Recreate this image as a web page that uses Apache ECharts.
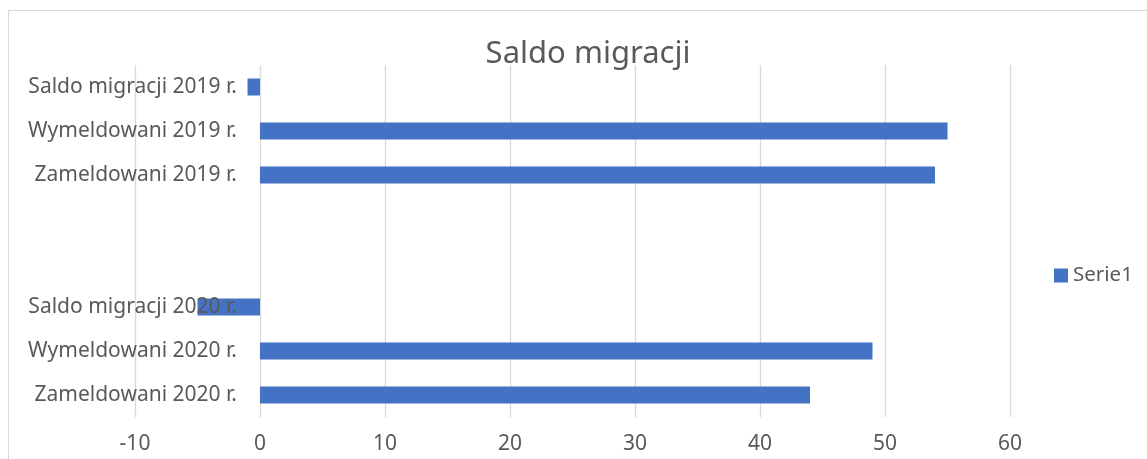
<!DOCTYPE html>
<html>
<head>
<meta charset="utf-8">
<style>
  html, body { margin: 0; padding: 0; background: #fff; }
  #frame {
    position: absolute; left: 8px; top: 10px; width: 1200px; height: 500px;
    border-left: 1px solid #d9d9d9; border-top: 1px solid #d9d9d9;
  }
  #chart { position: absolute; left: 0; top: 0; width: 1147px; height: 459px; }
</style>
<script src="https://cdn.jsdelivr.net/npm/echarts@6/dist/echarts.min.js"></script>
</head>
<body>
<div id="frame"></div>
<div id="chart"></div>
<script>
  // categories bottom to top, the two blanks make the gap between the years
  var categories = [
    'Zameldowani 2020 r.', 'Wymeldowani 2020 r.', 'Saldo migracji 2020 r.',
    '', ' ',
    'Zameldowani 2019 r.', 'Wymeldowani 2019 r.', 'Saldo migracji 2019 r.'
  ]
  var serie1 = [44, 49, -5, null, null, 54, 55, -1]

  var font = 'Noto Sans'
  var textColor = '#595959'

  var chart = echarts.init(document.getElementById('chart'))
  chart.setOption({
    animation: false,
    title: {
      text: 'Saldo migracji',
      left: 583,
      textAlign: 'center',
      top: 34,
      textStyle: {
        fontFamily: font,
        fontSize: 31,
        fontWeight: 'normal',
        color: textColor
      }
    },
    legend: {
      data: ['Serie1'],
      left: 1054,
      top: 265,
      padding: 0,
      icon: 'rect',
      itemWidth: 14,
      itemHeight: 14,
      textStyle: {
        fontFamily: font,
        fontSize: 20.5,
        color: textColor
      }
    },
    grid: {
      left: 135,
      right: 137,
      top: 65,
      bottom: 42,
      containLabel: false,
      outerBoundsMode: 'none'
    },
    xAxis: {
      type: 'value',
      min: -10,
      max: 60,
      interval: 10,
      axisLine: { show: false },
      axisTick: { show: false },
      splitLine: {
        lineStyle: { color: '#d9d9d9', width: 1.3 }
      },
      axisLabel: {
        margin: 17,
        fontFamily: font,
        fontSize: 21,
        color: textColor
      }
    },
    yAxis: {
      type: 'category',
      data: categories,
      z: 5, // labels drawn over the bars, like the 2020 saldo label
      axisLine: { show: false },
      axisTick: { show: false },
      axisLabel: {
        // labels sit just left of the zero line, inside the plot
        margin: -102,
        interval: 0,
        fontFamily: font,
        fontSize: 21,
        color: textColor
      }
    },
    series: [
      {
        name: 'Serie1',
        type: 'bar',
        data: serie1,
        barWidth: 17,
        itemStyle: {
          color: '#4472C4'
        }
      }
    ]
  })
</script>
</body>
</html>
